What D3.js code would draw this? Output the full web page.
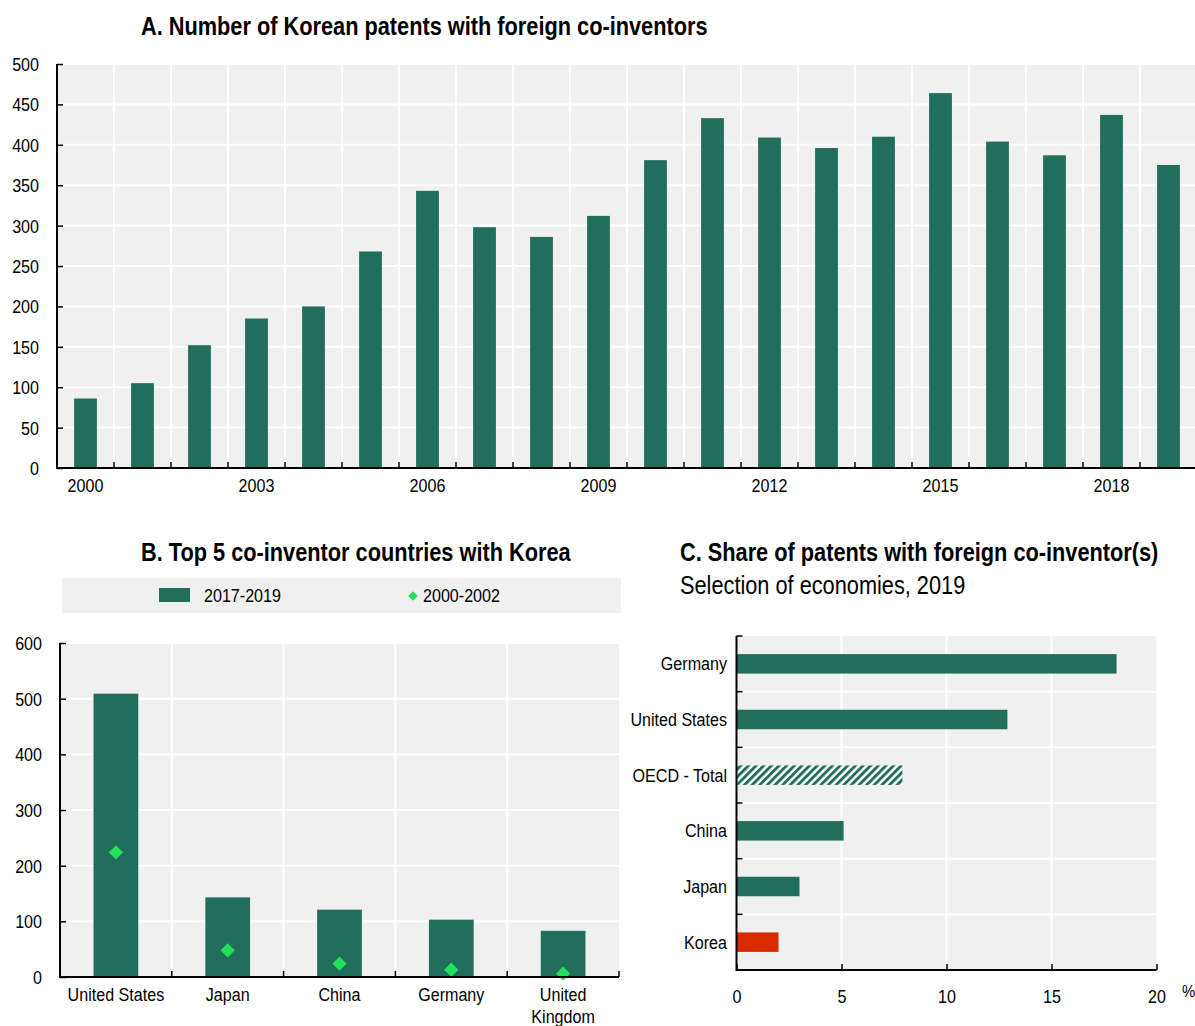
<!DOCTYPE html>
<html><head><meta charset="utf-8">
<script src="https://cdn.jsdelivr.net/npm/d3@7"></script>
<style>
body{margin:0;background:#fff}
svg text{font-family:"Liberation Sans Narrow","Arial Narrow","Liberation Sans",Arial,sans-serif;fill:#000}
</style>
</head><body>
<svg id="c" width="1195" height="1026"></svg>
<script>
// ---- Data ----
const years = [2000,2001,2002,2003,2004,2005,2006,2007,2008,2009,2010,2011,2012,2013,2014,2015,2016,2017,2018,2019];
const patents = [86,105,152,185,200,268,343,298,286,312,381,433,409,396,410,464,404,387,437,375];
const yearTickLabels = [2000,2003,2006,2009,2012,2015,2018];
const yTicksA = [0,50,100,150,200,250,300,350,400,450,500];

const countriesB = ["United States","Japan","China","Germany","United Kingdom"];
const period2017_2019 = [509,143,121,103,83];
const period2000_2002 = [224,48,24,13,6];
const yTicksB = [0,100,200,300,400,500,600];
const legendB = ["2017-2019","2000-2002"];

const economiesC = ["Germany","United States","OECD - Total","China","Japan","Korea"];
const sharesC = [18.1,12.9,7.9,5.1,3.0,2.0];
const xTicksC = [0,5,10,15,20];

// ---- Style ----
const GREEN = "#216e5a", BG = "#f0f0f0", RED = "#d82c00", DIAM = "#22df5c";
const FS = 18.5, TFS = 25, SQ = 0.87;
const svg = d3.select("#c");

const defs = svg.append("defs");
const pat = defs.append("pattern").attr("id","hatch").attr("patternUnits","userSpaceOnUse")
  .attr("width",5.4).attr("height",5.4).attr("patternTransform","rotate(45)");
pat.append("rect").attr("width",5.4).attr("height",5.4).attr("fill","#fff");
pat.append("rect").attr("width",2.9).attr("height",5.4).attr("fill",GREEN);

function title(x,y,t,bold,size){
  svg.append("text").attr("x",x).attr("y",y).attr("font-size",size)
    .attr("font-weight",bold?"bold":"normal").text(t);
}

// ---- Panel A ----
{
  const L=57, R=1197, T=64, B=468;
  const x = d3.scaleBand().domain(years).range([L,R]).paddingInner(0.6).paddingOuter(0.3);
  const y = d3.scaleLinear().domain([0,500]).range([B,T]);
  const g = svg.append("g");
  g.append("rect").attr("x",L).attr("y",T).attr("width",R-L).attr("height",B-T).attr("fill",BG);
  g.selectAll(".hg").data(yTicksA.slice(1)).enter().append("line")
    .attr("x1",L).attr("x2",R).attr("y1",d=>y(d)).attr("y2",d=>y(d)).attr("stroke","#fff").attr("stroke-width",2);
  const step = x.step();
  const bounds = years.slice(1).map(d=>x(d)-x.paddingInner()*step/2);
  g.selectAll(".vg").data(bounds).enter().append("line")
    .attr("x1",d=>d).attr("x2",d=>d).attr("y1",T).attr("y2",B).attr("stroke","#fff").attr("stroke-width",2);
  g.selectAll(".bar").data(years).enter().append("rect")
    .attr("x",d=>x(d)).attr("width",x.bandwidth())
    .attr("y",(d,i)=>y(patents[i])).attr("height",(d,i)=>B-y(patents[i])).attr("fill",GREEN);
  const ya = g.append("g").attr("transform",`translate(${L},0)`).call(d3.axisRight(y).tickValues(yTicksA).tickSize(6).tickFormat(d3.format("d")));
  ya.select(".domain").remove();
  ya.selectAll("line").attr("stroke","#000").attr("stroke-width",1.5);
  ya.selectAll("text").attr("x",-18).attr("text-anchor","end").attr("font-size",FS).attr("dy","0.35em");
  g.append("line").attr("x1",L).attr("x2",L).attr("y1",T).attr("y2",B+1).attr("stroke","#000").attr("stroke-width",2);
  g.selectAll(".xt").data(bounds).enter().append("line")
    .attr("x1",d=>d).attr("x2",d=>d).attr("y1",B-6).attr("y2",B).attr("stroke","#000").attr("stroke-width",1.5);
  g.append("line").attr("x1",L).attr("x2",R).attr("y1",B).attr("y2",B).attr("stroke","#000").attr("stroke-width",2);
  g.selectAll(".xl").data(yearTickLabels).enter().append("text")
    .attr("x",d=>x(d)+x.bandwidth()/2).attr("y",492).attr("text-anchor","middle").attr("font-size",FS).text(d=>d);
  title(141,35,"A. Number of Korean patents with foreign co-inventors",true,TFS);
}

// ---- Panel B ----
{
  const L=60, R=619, T=643, B=977;
  svg.append("rect").attr("x",62).attr("y",578).attr("width",559).attr("height",35).attr("fill",BG);
  svg.append("rect").attr("x",159).attr("y",588).attr("width",31).attr("height",14).attr("fill",GREEN);
  svg.append("text").attr("x",204).attr("y",602).attr("font-size",FS).text(legendB[0]);
  svg.append("path").attr("d",d3.symbol(d3.symbolDiamond2,60)()).attr("transform","translate(413,596)").attr("fill",DIAM);
  svg.append("text").attr("x",423).attr("y",602).attr("font-size",FS).text(legendB[1]);

  const x = d3.scaleBand().domain(countriesB).range([L,R]).paddingInner(0.6).paddingOuter(0.3);
  const y = d3.scaleLinear().domain([0,600]).range([B,T]);
  const g = svg.append("g");
  g.append("rect").attr("x",L).attr("y",T).attr("width",R-L).attr("height",B-T).attr("fill",BG);
  g.selectAll(".hg").data(yTicksB.slice(1)).enter().append("line")
    .attr("x1",L).attr("x2",R).attr("y1",d=>y(d)).attr("y2",d=>y(d)).attr("stroke","#fff").attr("stroke-width",2);
  const step = x.step();
  const bounds = countriesB.slice(1).map(d=>x(d)-x.paddingInner()*step/2);
  g.selectAll(".vg").data(bounds).enter().append("line")
    .attr("x1",d=>d).attr("x2",d=>d).attr("y1",T).attr("y2",B).attr("stroke","#fff").attr("stroke-width",2);
  g.selectAll(".bar").data(countriesB).enter().append("rect")
    .attr("x",d=>x(d)).attr("width",x.bandwidth())
    .attr("y",(d,i)=>y(period2017_2019[i])).attr("height",(d,i)=>B-y(period2017_2019[i])).attr("fill",GREEN);
  g.selectAll(".dm").data(countriesB).enter().append("path")
    .attr("d",d3.symbol(d3.symbolDiamond2,130)())
    .attr("transform",(d,i)=>`translate(${x(d)+x.bandwidth()/2},${y(period2000_2002[i])})`).attr("fill",DIAM);
  const ya = g.append("g").attr("transform",`translate(${L},0)`).call(d3.axisRight(y).tickValues(yTicksB).tickSize(6));
  ya.select(".domain").remove();
  ya.selectAll("line").attr("stroke","#000").attr("stroke-width",1.5);
  ya.selectAll("text").attr("x",-18).attr("text-anchor","end").attr("font-size",FS).attr("dy","0.35em");
  g.append("line").attr("x1",L).attr("x2",L).attr("y1",T).attr("y2",B+1).attr("stroke","#000").attr("stroke-width",2);
  g.selectAll(".xt").data(bounds.concat([R])).enter().append("line")
    .attr("x1",d=>d).attr("x2",d=>d).attr("y1",B-6).attr("y2",B).attr("stroke","#000").attr("stroke-width",1.5);
  g.append("line").attr("x1",L).attr("x2",R).attr("y1",B).attr("y2",B).attr("stroke","#000").attr("stroke-width",2);
  g.selectAll(".xl").data(countriesB).enter().append("text")
    .attr("x",d=>x(d)+x.bandwidth()/2).attr("y",1001).attr("text-anchor","middle").attr("font-size",FS)
    .each(function(d){
      const parts = d==="United Kingdom" ? ["United","Kingdom"] : [d];
      const t=d3.select(this);
      parts.forEach((p,k)=>t.append("tspan").attr("x",t.attr("x")).attr("dy",k?22:0).text(p));
    });
  title(141,561,"B. Top 5 co-inventor countries with Korea",true,TFS);
}

// ---- Panel C ----
{
  const L=736.5, R=1156.5, T=636, B=970;
  const y = d3.scaleBand().domain(economiesC).range([T,B]).paddingInner(0.65).paddingOuter(0.325);
  const x = d3.scaleLinear().domain([0,20]).range([L,R]);
  const g = svg.append("g");
  g.append("rect").attr("x",L).attr("y",T).attr("width",R-L).attr("height",B-T).attr("fill",BG);
  const step = y.step();
  const bounds = economiesC.slice(1).map(d=>y(d)-y.paddingInner()*step/2);
  g.selectAll(".hg").data(bounds).enter().append("line")
    .attr("x1",L).attr("x2",R).attr("y1",d=>d).attr("y2",d=>d).attr("stroke","#fff").attr("stroke-width",2);
  g.selectAll(".vg").data(xTicksC.slice(1,-1)).enter().append("line")
    .attr("x1",d=>x(d)).attr("x2",d=>x(d)).attr("y1",T).attr("y2",B).attr("stroke","#fff").attr("stroke-width",2);
  g.selectAll(".bar").data(economiesC).enter().append("rect")
    .attr("x",L).attr("y",d=>y(d)).attr("height",y.bandwidth())
    .attr("width",(d,i)=>x(sharesC[i])-L)
    .attr("fill",d=>d==="Korea"?RED:(d==="OECD - Total"?"url(#hatch)":GREEN));
  g.selectAll(".yt").data([T].concat(bounds)).enter().append("line")
    .attr("x1",L).attr("x2",L+6).attr("y1",d=>d).attr("y2",d=>d).attr("stroke","#000").attr("stroke-width",1.5);
  g.append("line").attr("x1",L).attr("x2",L).attr("y1",T).attr("y2",B+1).attr("stroke","#000").attr("stroke-width",2);
  g.selectAll(".yl").data(economiesC).enter().append("text")
    .attr("x",727).attr("y",d=>y(d)+y.bandwidth()/2).attr("dy","0.35em").attr("text-anchor","end").attr("font-size",FS).text(d=>d);
  const xa = g.append("g").attr("transform",`translate(0,${B})`).call(d3.axisTop(x).tickValues(xTicksC).tickSize(6));
  xa.select(".domain").remove();
  xa.selectAll("line").attr("stroke","#000").attr("stroke-width",1.5);
  xa.selectAll("text").attr("y",33).attr("dy",0).attr("text-anchor","middle").attr("font-size",FS);
  g.append("line").attr("x1",L).attr("x2",R).attr("y1",B).attr("y2",B).attr("stroke","#000").attr("stroke-width",2);
  svg.append("text").attr("x",1182).attr("y",997).attr("font-size",17).text("%");
  title(680,561,"C. Share of patents with foreign co-inventor(s)",true,TFS);
  title(680,594,"Selection of economies, 2019",false,TFS);
}

// Emulate a condensed typeface: squeeze every text horizontally about its anchor x
svg.selectAll("text").each(function(){
  const t = d3.select(this);
  const x = +t.attr("x") || 0;
  const prev = t.attr("transform") || "";
  t.attr("transform", `${prev} translate(${x},0) scale(${SQ},1) translate(${-x},0)`);
});
</script>
</body></html>
